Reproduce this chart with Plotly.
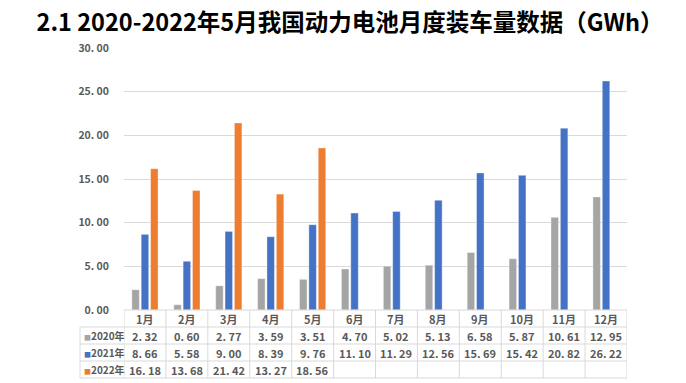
import plotly.graph_objects as go

months = ["1月", "2月", "3月", "4月", "5月", "6月", "7月", "8月", "9月", "10月", "11月", "12月"]
s2020 = [2.32, 0.60, 2.77, 3.59, 3.51, 4.70, 5.02, 5.13, 6.58, 5.87, 10.61, 12.95]
s2021 = [8.66, 5.58, 9.00, 8.39, 9.76, 11.10, 11.29, 12.56, 15.69, 15.42, 20.82, 26.22]
s2022 = [16.18, 13.68, 21.42, 13.27, 18.56, None, None, None, None, None, None, None]
series_names = ["2020年", "2021年", "2022年"]
colors = ["#A5A5A5", "#4472C4", "#ED7D31"]
yticks = [0, 5, 10, 15, 20, 25, 30]

W, H = 686, 383
L, R, T, B = 124, 59, 48, 73
plot_h = H - T - B
plot_w = W - L - R

FONT = "Noto Sans CJK SC"
TXT = "#595959"
GRID = "#D9D9D9"

def fmt(v):
    return "" if v is None else f"{v:.2f}".replace(".", ". ")

fig = go.Figure()
idx = list(range(len(months)))
for name, vals, c in zip(series_names, [s2020, s2021, s2022], colors):
    fig.add_trace(go.Bar(x=idx, y=vals, name=name, marker=dict(color=c, line=dict(width=0.6, color="rgba(255,255,255,0.6)"))))

row_h = 17 / plot_h
shapes = []
annotations = []
left_px = 80
left_paper = (left_px - L) / plot_w
for k in range(1, 5):
    y = -k * row_h
    shapes.append(dict(type="line", xref="paper", yref="paper", x0=left_paper, x1=1, y0=y, y1=y,
                       line=dict(color=GRID, width=1)))
shapes.append(dict(type="line", xref="paper", yref="paper", x0=0, x1=1, y0=0, y1=0,
                   line=dict(color=GRID, width=1)))
for k in range(len(months) + 1):
    shapes.append(dict(type="line", xref="x", yref="paper", x0=k - 0.5, x1=k - 0.5, y0=0, y1=-4 * row_h,
                       line=dict(color=GRID, width=1)))
shapes.append(dict(type="line", xref="paper", yref="paper", x0=left_paper, x1=left_paper, y0=-row_h, y1=-4 * row_h,
                   line=dict(color=GRID, width=1)))

tf = dict(family=FONT, size=11, color=TXT, weight="bold")
for i, m in enumerate(months):
    annotations.append(dict(x=i, y=-0.5 * row_h, xref="x", yref="paper", text=m, showarrow=False, font=tf,
                            xanchor="center", yanchor="middle"))
for r, (vals, name, c) in enumerate(zip([s2020, s2021, s2022], series_names, colors)):
    yc = -(r + 1.5) * row_h
    annotations.append(dict(x=(82 - L) / plot_w, y=yc, xref="paper", yref="paper",
                            text=f"<span style='color:{c};font-size:7px'>■</span>{name}",
                            showarrow=False, font=dict(family=FONT, size=10, color=TXT, weight="bold"),
                            xanchor="left", yanchor="middle"))
    for i, v in enumerate(vals):
        if v is None:
            continue
        annotations.append(dict(x=i, y=yc, xref="x", yref="paper", text=fmt(v), showarrow=False, font=tf,
                                xanchor="center", yanchor="middle"))

fig.update_layout(
    width=W, height=H,
    margin=dict(l=L, r=R, t=T, b=B, pad=0),
    paper_bgcolor="white", plot_bgcolor="white",
    barmode="group", bargap=0.33, bargroupgap=0.2,
    showlegend=False,
    title=dict(text="2.1 2020-2022年5月我国动力电池月度装车量数据（GWh）", x=350 / W, xanchor="center",
               y=1 - 23 / H, yanchor="middle",
               font=dict(family=FONT, size=23.5, color="#000000", weight="bold")),
    xaxis=dict(range=[-0.5, 11.5], showticklabels=False, showgrid=False, zeroline=False, showline=False,
               ticks=""),
    yaxis=dict(range=[0, 30], tickvals=yticks, ticktext=[fmt(v) for v in yticks], showgrid=True,
               gridcolor=GRID, gridwidth=1, zeroline=False, showline=False, ticks="", ticklabelstandoff=14,
               tickfont=dict(family=FONT, size=10.5, color=TXT, weight="bold")),
    shapes=shapes, annotations=annotations,
)
fig.write_html("out.html", config={"displayModeBar": False},
               post_script="document.body.style.margin='0';document.body.style.overflow='hidden';")
